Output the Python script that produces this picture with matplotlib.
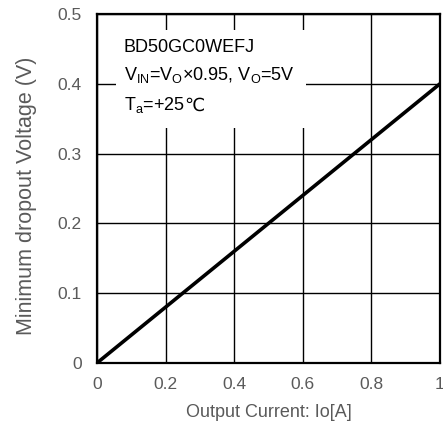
import matplotlib
matplotlib.use("Agg")
import matplotlib.pyplot as plt
from matplotlib.patches import Rectangle

plt.rcParams['font.family'] = ['Liberation Sans', 'DejaVu Sans']
plt.rcParams['mathtext.fontset'] = 'custom'
plt.rcParams['mathtext.rm'] = 'Liberation Sans'

# data
current = [0, 1.0]
dropout = [0, 0.4]
xticks = [0, 0.2, 0.4, 0.6, 0.8, 1]
xlabels = ["0", "0.2", "0.4", "0.6", "0.8", "1"]
yticks = [0, 0.1, 0.2, 0.3, 0.4, 0.5]
ylabels = ["0", "0.1", "0.2", "0.3", "0.4", "0.5"]

fig = plt.figure(figsize=(4.43, 4.26), dpi=100)
ax = fig.add_axes([0.219, 0.148, 0.774, 0.819])

ax.set_xlim(0, 1)
ax.set_ylim(0, 0.5)
ax.set_xticks(xticks)
ax.set_xticklabels(xlabels)
ax.set_yticks(yticks)
ax.set_yticklabels(ylabels)
ax.tick_params(length=0, labelsize=12.5, labelcolor="#5a5a5a")
ax.tick_params(axis="x", pad=10)
ax.tick_params(axis="y", pad=11)
ax.grid(True, color="black", linewidth=1.0)
ax.set_axisbelow(True)
for s in ax.spines.values():
    s.set_linewidth(1.6)

# white box behind the annotation
ax.add_patch(Rectangle((0.055, 0.337), 0.554, 0.14, facecolor="white",
                       edgecolor="none", zorder=1.5))

ax.plot(current, dropout, color="black", linewidth=2.6, zorder=3)

tx = 0.078
ax.text(tx, 0.4527, "BD50GC0WEFJ", fontsize=13, va="center", zorder=4)
ax.text(tx, 0.4126, r"V$_{\mathrm{IN}}$=V$_{\mathrm{O}}$×0.95, V$_{\mathrm{O}}$=5V",
        fontsize=13, va="center", zorder=4)
t3 = ax.text(tx, 0.3696, r"T$_{\mathrm{a}}$=+25", fontsize=13, va="center", zorder=4)
ax.annotate("℃", xy=(1, 0), xycoords=t3, fontsize=13, va="bottom", ha="left",
            family=["DejaVu Sans"], zorder=4)

ax.set_xlabel("Output Current: Io[A]", fontsize=13, color="#5a5a5a", labelpad=9)
ax.set_ylabel("Minimum dropout Voltage (V)", fontsize=15.5, color="#5a5a5a")
ax.yaxis.set_label_coords(-0.175, 0.48)

fig.savefig("out.png", dpi=100)
